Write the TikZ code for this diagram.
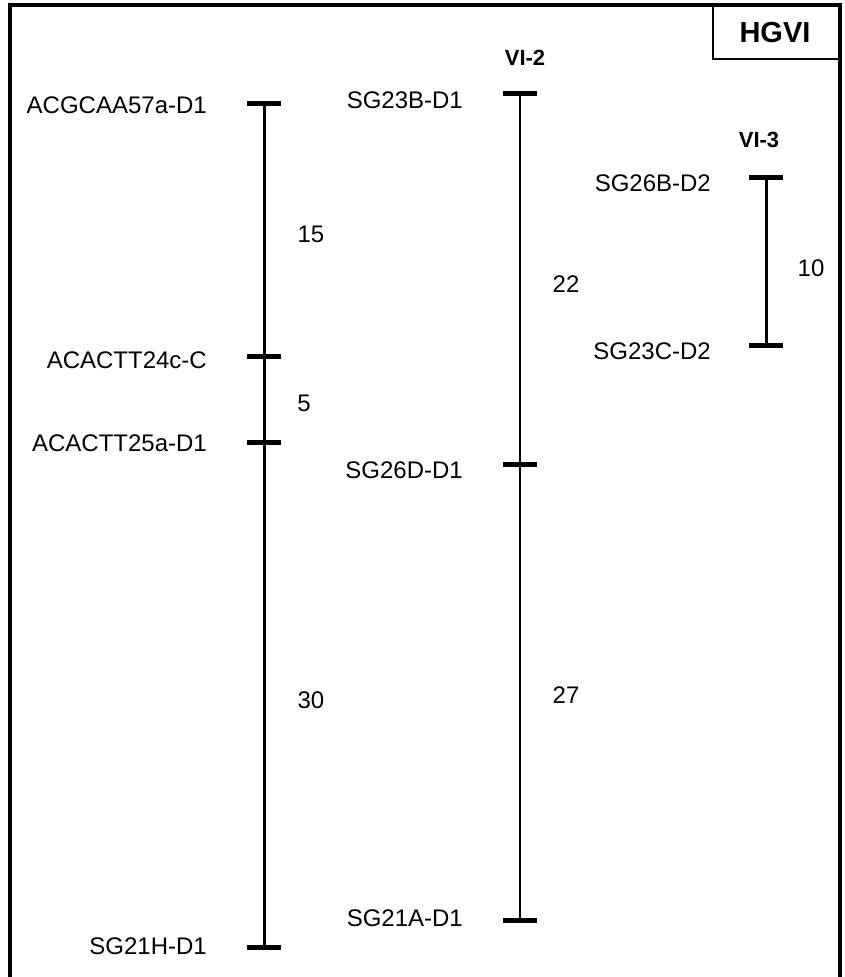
\documentclass[tikz,border=0pt]{standalone}
\usepackage{fontspec}
\setmainfont{Liberation Sans}
\begin{document}
\begin{tikzpicture}[x=1pt,y=-1pt,
  lbl/.style={anchor=east,inner sep=0pt,font=\fontsize{24}{28}\selectfont},
  dist/.style={inner sep=0pt,font=\fontsize{24}{28}\selectfont},
  ttl/.style={inner sep=0pt,font=\fontsize{22}{26}\selectfont\bfseries},
  chrom/.style={line width=3pt},
  chromthin/.style={line width=2pt},
  tick/.style={line width=5pt}]
\useasboundingbox (0,0) rectangle (845,977);
% frame
\draw[line width=4pt] (10,980) -- (10,5) -- (840,5) -- (840,980);
\draw[line width=2pt] (713,5) -- (713,59) -- (840,59);
\node[inner sep=0pt,font=\fontsize{29}{33}\selectfont\bfseries] (hgvi) at (775,33) {HGVI};
% chromosome 1
\coordinate (a1) at (264,103);
\coordinate (a2) at (264,356);
\coordinate (a3) at (264,442);
\coordinate (a4) at (264,947);
\draw[chrom] (a1) -- (a2) -- (a3) -- (a4);
\foreach \p in {a1,a2,a3,a4} \draw[tick] ([xshift=-17pt]\p) -- ([xshift=17pt]\p);
\node[lbl] (l1) at (207,105) {ACGCAA57a-D1};
\node[lbl] (l2) at (207,360) {ACACTT24c-C};
\node[lbl] (l3) at (207,443) {ACACTT25a-D1};
\node[lbl] (l4) at (207,946) {SG21H-D1};
\node[dist] (d1) at (311,234) {15};
\node[dist] (d2) at (304,403) {5};
\node[dist] (d3) at (311,700) {30};
% chromosome 2
\node[ttl] (t2) at (525,58) {VI-2};
\coordinate (b1) at (520,93);
\coordinate (b2) at (520,464);
\coordinate (b3) at (520,920);
\draw[chromthin] (b1) -- (b2) -- (b3);
\foreach \p in {b1,b2,b3} \draw[tick] ([xshift=-17pt]\p) -- ([xshift=17pt]\p);
\node[lbl] (m1) at (463,100) {SG23B-D1};
\node[lbl] (m2) at (463,470) {SG26D-D1};
\node[lbl] (m3) at (463,918) {SG21A-D1};
\node[dist] (e1) at (566,284) {22};
\node[dist] (e2) at (566,695) {27};
% chromosome 3
\node[ttl] (t3) at (759,140) {VI-3};
\coordinate (c1) at (766,177);
\coordinate (c2) at (766,345);
\draw[chrom] (c1) -- (c2);
\foreach \p in {c1,c2} \draw[tick] ([xshift=-17pt]\p) -- ([xshift=17pt]\p);
\node[lbl] (n1) at (711,183) {SG26B-D2};
\node[lbl] (n2) at (711,351) {SG23C-D2};
\node[dist] (f1) at (811,268) {10};
\end{tikzpicture}
\end{document}
